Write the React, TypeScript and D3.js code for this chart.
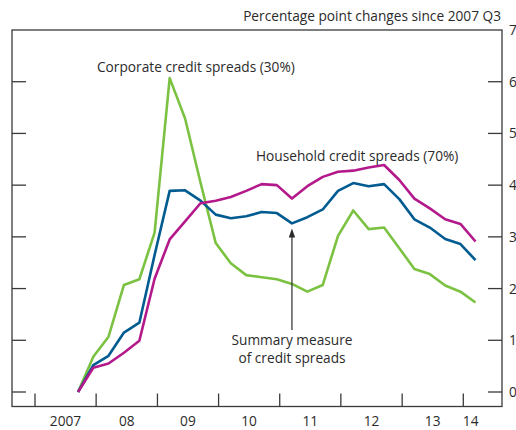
import React from "react";
import * as d3 from "d3";

const quarters: string[] = [
  "2007-09-15", "2007-12-15",
  "2008-03-15", "2008-06-15", "2008-09-15", "2008-12-15",
  "2009-03-15", "2009-06-15", "2009-09-15", "2009-12-15",
  "2010-03-15", "2010-06-15", "2010-09-15", "2010-12-15",
  "2011-03-15", "2011-06-15", "2011-09-15", "2011-12-15",
  "2012-03-15", "2012-06-15", "2012-09-15", "2012-12-15",
  "2013-03-15", "2013-06-15", "2013-09-15", "2013-12-15",
  "2014-03-15",
];

const corporate: number[] = [
  0, 0.68, 1.07, 2.07, 2.18, 3.08, 6.07, 5.29, 4.05, 2.88,
  2.49, 2.26, 2.22, 2.18, 2.09, 1.94, 2.07, 3.02, 3.51, 3.15,
  3.18, 2.78, 2.38, 2.28, 2.06, 1.94, 1.73,
];

const household: number[] = [
  0, 0.47, 0.55, 0.76, 0.99, 2.19, 2.95, 3.3, 3.65, 3.7,
  3.77, 3.89, 4.02, 4.0, 3.74, 3.98, 4.16, 4.26, 4.28, 4.34,
  4.39, 4.1, 3.74, 3.55, 3.34, 3.25, 2.91,
];

const summary: number[] = [
  0, 0.52, 0.7, 1.15, 1.34, 2.65, 3.89, 3.9, 3.7, 3.43,
  3.36, 3.4, 3.48, 3.46, 3.26, 3.38, 3.53, 3.89, 4.04, 3.98,
  4.02, 3.73, 3.34, 3.18, 2.96, 2.86, 2.55,
];

const yearTicks: string[] = [
  "2007-01-01", "2008-01-01", "2009-01-01", "2010-01-01",
  "2011-01-01", "2012-01-01", "2013-01-01", "2014-01-01",
];
const yearLabels: string[] = ["2007", "08", "09", "10", "11", "12", "13", "14"];
const yearLabelDates: string[] = [
  "2007-07-02", "2008-07-02", "2009-07-02", "2010-07-02",
  "2011-07-02", "2012-07-02", "2013-07-02", "2014-02-14",
];
const yValues: number[] = [0, 1, 2, 3, 4, 5, 6, 7];

const parse = d3.timeParse("%Y-%m-%d");

const W = 516;
const H = 430;
const left = 12;
const right = 502;
const top = 30;
const bottom = 406.5;

const FONT = "'Open Sans', 'Noto Sans', sans-serif";
const FS = 13.7;
const TEXT = "#2b2b2b";
const AXIS = "#3a3a3a";

export default function App() {
  const x = d3
    .scaleTime()
    .domain([parse("2007-01-01") as Date, parse("2014-01-01") as Date])
    .range([35, 463.3]);
  const y = d3.scaleLinear().domain([0, 7]).range([392, 30]);

  const dates = quarters.map((q) => parse(q) as Date);
  const line = d3
    .line<number>()
    .x((_, i) => x(dates[i]))
    .y((v) => y(v));

  const series = [
    { values: corporate, color: "#7cc242" },
    { values: summary, color: "#005b91" },
    { values: household, color: "#b3198b" },
  ];

  const arrowX = x(dates[14]);
  const arrowTip = y(summary[14]) + 5;

  return (
    <svg
      width={W}
      height={H}
      style={{ position: "absolute", left: 0, top: 0, background: "#fff" }}
      fontFamily={FONT}
    >
      <rect x={0} y={0} width={W} height={H} fill="#fff" />
      {/* frame */}
      <rect
        x={left}
        y={top}
        width={right - left}
        height={bottom - top}
        fill="none"
        stroke={AXIS}
        strokeWidth={1.3}
      />
      {/* y ticks both sides */}
      {yValues.slice(0, 7).map((v) => (
        <g key={"yt" + v}>
          <line x1={left} x2={left + 14} y1={y(v)} y2={y(v)} stroke={AXIS} strokeWidth={1.3} />
          <line x1={right - 14} x2={right} y1={y(v)} y2={y(v)} stroke={AXIS} strokeWidth={1.3} />
        </g>
      ))}
      {yValues.map((v) => (
        <text
          key={"yl" + v}
          x={509}
          y={y(v) + 5}
          fontSize={FS}
          fill={TEXT}
        >
          {v}
        </text>
      ))}
      {/* x ticks */}
      {yearTicks.map((t) => {
        const xx = x(parse(t) as Date);
        return (
          <line key={t} x1={xx} x2={xx} y1={bottom} y2={bottom - 13} stroke={AXIS} strokeWidth={1.3} />
        );
      })}
      {yearLabels.map((l, i) => (
        <text
          key={"xl" + l}
          x={x(parse(yearLabelDates[i]) as Date)}
          y={426}
          fontSize={FS}
          textAnchor="middle"
          fill={TEXT}
        >
          {l}
        </text>
      ))}
      {/* series */}
      {series.map((s) => (
        <path
          key={s.color}
          d={line(s.values) || ""}
          fill="none"
          stroke={s.color}
          strokeWidth={2.6}
          strokeLinejoin="round"
        />
      ))}
      {/* arrow */}
      <line x1={arrowX} x2={arrowX} y1={arrowTip + 6} y2={330} stroke={TEXT} strokeWidth={1.2} />
      <path
        d={`M${arrowX},${arrowTip} L${arrowX - 3.2},${arrowTip + 9} L${arrowX + 3.2},${arrowTip + 9} Z`}
        fill={TEXT}
      />
      {/* labels */}
      <text x={501} y={21} fontSize={FS} textAnchor="end" fill={TEXT}>
        Percentage point changes since 2007 Q3
      </text>
      <text x={97} y={72} fontSize={FS} fill={TEXT}>
        Corporate credit spreads (30%)
      </text>
      <text x={256} y={161} fontSize={FS} fill={TEXT}>
        Household credit spreads (70%)
      </text>
      <text x={292} y={345} fontSize={FS} textAnchor="middle" fill={TEXT}>
        Summary measure
      </text>
      <text x={292} y={363} fontSize={FS} textAnchor="middle" fill={TEXT}>
        of credit spreads
      </text>
    </svg>
  );
}
